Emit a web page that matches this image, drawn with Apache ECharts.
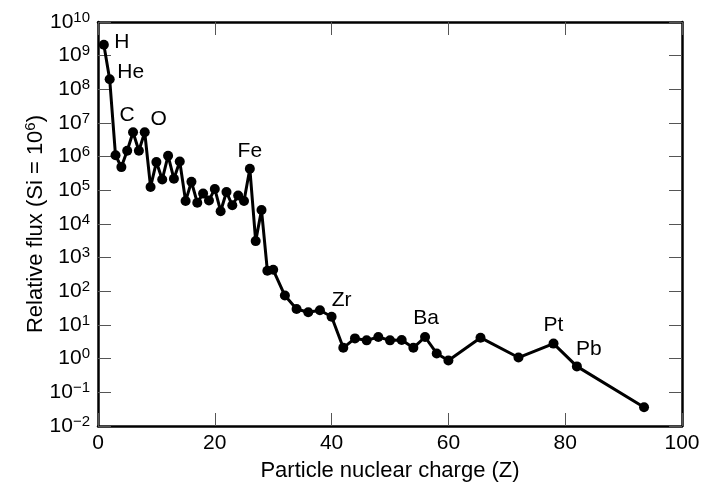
<!DOCTYPE html>
<html>
<head>
<meta charset="utf-8">
<script src="https://cdn.jsdelivr.net/npm/echarts@6/dist/echarts.min.js"></script>
<style>
  html, body { margin: 0; padding: 0; background: #fff; }
  #chart { width: 714px; height: 487px; }
</style>
</head>
<body>
<div id="chart"></div>
<script>
// Nuclear charge Z of each plotted abundance point
const charge = [1, 2, 3, 4, 5, 6, 7, 8, 9, 10, 11, 12, 13, 14, 15, 16, 17, 18, 19, 20,
  21, 22, 23, 24, 25, 26, 27, 28, 29, 30, 32, 34, 36, 38, 40, 42, 44, 46, 48, 50,
  52, 54, 56, 58, 60, 65.5, 72, 78, 82, 93.5];

// Relative flux, normalised to Si = 10^6
const flux = [2.1e9, 2.0e8, 1.1e6, 4.9e5, 1.5e6, 5.3e6, 1.5e6, 5.3e6, 1.26e5, 6.9e5,
  2.1e5, 1.07e6, 2.2e5, 7.2e5, 4.8e4, 1.8e5, 4.3e4, 8.0e4, 5.0e4, 1.1e5,
  2.4e4, 8.9e4, 3.6e4, 7.0e4, 4.8e4, 4.4e5, 3.1e3, 2.6e4, 410, 435,
  75, 30, 24, 27.5, 17.6, 2.1, 4.0, 3.5, 4.4, 3.5,
  3.6, 2.1, 4.4, 1.43, 0.88, 4.2, 1.08, 2.8, 0.59, 0.036];

// Elements named on the curve
const labelledCharges = [1, 2, 6, 8, 26, 40, 56, 78, 82];
const labelledNames = ['H', 'He', 'C', 'O', 'Fe', 'Zr', 'Ba', 'Pt', 'Pb'];

// Axis ranges
const xTickValues = [0, 20, 40, 60, 80, 100];
const yExponents = [-2, -1, 0, 1, 2, 3, 4, 5, 6, 7, 8, 9, 10];

const FONT = '"Liberation Sans", Arial, Helvetica, sans-serif';
const LABEL_SIZE = 21;
const TITLE_SIZE = 22;
const SUP_SIZE = 15;

// Where each element name sits relative to its point (px)
const nameOffsets = {
  H: [18, -3], He: [21, -7], C: [-6, -17], O: [14, -13], Fe: [0, -17],
  Zr: [10, -17], Ba: [1, -19], Pt: [0, -18], Pb: [12, -17]
};

const points = charge.map((z, i) => {
  const item = { value: [z, flux[i]] };
  const k = labelledCharges.indexOf(z);
  if (k >= 0) {
    const nm = labelledNames[k];
    item.label = {
      show: true,
      formatter: nm,
      position: 'inside',
      offset: nameOffsets[nm],
      color: '#000',
      fontSize: LABEL_SIZE,
      fontFamily: FONT
    };
  }
  return item;
});

const minus = '\u2212';
function powerLabel(v) {
  const e = Math.round(Math.log10(v));
  return '{b|10}{s|' + (e < 0 ? minus + (-e) : e) + '}';
}

const axisLineStyle = { show: true, onZero: false, lineStyle: { color: '#000', width: 2.5 } };
const tickStyle = { show: true, inside: true, length: 13, lineStyle: { color: '#555', width: 1 } };

const chart = echarts.init(document.getElementById('chart'), null, { renderer: 'canvas' });
chart.setOption({
  animation: false,
  backgroundColor: '#fff',
  grid: { left: 98, right: 32, top: 22, bottom: 58, containLabel: false },
  xAxis: [
    {
      type: 'value',
      min: xTickValues[0],
      max: xTickValues[xTickValues.length - 1],
      interval: 20,
      axisLine: axisLineStyle,
      axisTick: tickStyle,
      splitLine: { show: false },
      axisLabel: { color: '#000', fontSize: LABEL_SIZE, fontFamily: FONT, margin: 7 },
      name: 'Particle nuclear charge (Z)',
      nameLocation: 'middle',
      nameGap: 34,
      nameTextStyle: { color: '#000', fontSize: TITLE_SIZE, fontFamily: FONT }
    },
    {
      type: 'value',
      position: 'top',
      min: xTickValues[0],
      max: xTickValues[xTickValues.length - 1],
      interval: 20,
      axisLine: axisLineStyle,
      axisTick: tickStyle,
      splitLine: { show: false },
      axisLabel: { show: false }
    }
  ],
  yAxis: [
    {
      type: 'log',
      logBase: 10,
      min: Math.pow(10, yExponents[0]),
      max: Math.pow(10, yExponents[yExponents.length - 1]),
      interval: 1,
      axisLine: axisLineStyle,
      axisTick: tickStyle,
      minorTick: { show: false },
      splitLine: { show: false },
      axisLabel: {
        margin: 8,
        formatter: powerLabel,
        rich: {
          b: { color: '#000', fontSize: LABEL_SIZE, fontFamily: FONT, lineHeight: 24 },
          s: { color: '#000', fontSize: SUP_SIZE, fontFamily: FONT, verticalAlign: 'top', lineHeight: 16 }
        }
      },
      name: '{a|Relative flux (Si = 10}{s|6}{a|)}',
      nameLocation: 'middle',
      nameGap: 50,
      nameMoveOverlap: false,
      nameTextStyle: {
        rich: {
          a: { color: '#000', fontSize: TITLE_SIZE, fontFamily: FONT, lineHeight: 25 },
          s: { color: '#000', fontSize: SUP_SIZE, fontFamily: FONT, verticalAlign: 'top', lineHeight: 16 }
        }
      }
    },
    {
      type: 'log',
      logBase: 10,
      position: 'right',
      min: Math.pow(10, yExponents[0]),
      max: Math.pow(10, yExponents[yExponents.length - 1]),
      interval: 1,
      axisLine: axisLineStyle,
      axisTick: tickStyle,
      minorTick: { show: false },
      splitLine: { show: false },
      axisLabel: { show: false }
    }
  ],
  series: [
    {
      type: 'line',
      data: points,
      xAxisIndex: 0,
      yAxisIndex: 0,
      symbol: 'circle',
      symbolSize: 10,
      showSymbol: true,
      itemStyle: { color: '#000' },
      lineStyle: { color: '#000', width: 3 },
      z: 3
    }
  ]
});
</script>
</body>
</html>
